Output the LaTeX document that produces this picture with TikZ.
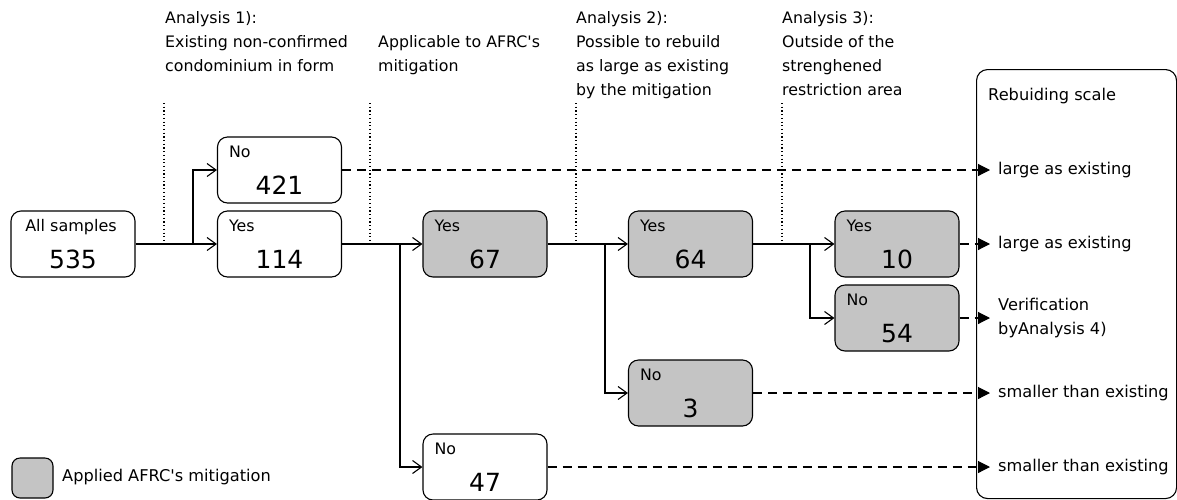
\documentclass[tikz,border=0pt]{standalone}
\usepackage{fontspec}
\setmainfont{DejaVu Sans}
\newfontfamily\dvs{DejaVu Sans}
\usetikzlibrary{arrows.meta,calc}
\definecolor{boxgray}{RGB}{196,196,196}
\tikzset{
  box/.style={draw, rounded corners=10pt, minimum width=124pt, minimum height=66pt, line width=1.1pt, inner sep=0pt},
  gbox/.style={box, fill=boxgray},
  lbl/.style={anchor=base west, inner sep=0pt, font=\dvs\fontsize{15.8}{18}\selectfont},
  num/.style={anchor=base, inner sep=0pt, font=\dvs\fontsize{25}{30}\selectfont},
  head/.style={anchor=north west, inner sep=0pt, align=left, font=\dvs\fontsize{15.8}{24}\selectfont},
  rtext/.style={anchor=west, inner sep=0pt, align=left, font=\dvs\fontsize{16.2}{24.5}\selectfont},
  arr/.style={line width=1.1pt, -{Straight Barb[length=9pt,width=13pt,line width=1.1pt]}},
  darr/.style={line width=1.1pt, dash pattern=on 9pt off 6pt, -{Triangle[length=12pt,width=12pt]}},
  dotline/.style={line width=1.2pt, dash pattern=on 1.2pt off 2.5pt},
}
\begin{document}
\dvs
\begin{tikzpicture}[x=1pt,y=-1pt]
\useasboundingbox (0,0) rectangle (1177,499);

% headers
\node[head] (h1) at (165,11) {Analysis 1):\\Existing non-confirmed\\condominium in form};
\node[head] (h2) at (378,35) {Applicable to AFRC's\\mitigation};
\node[head] (h3) at (576,11) {Analysis 2):\\Possible to rebuild\\as large as existing\\by the mitigation};
\node[head] (h4) at (782,11) {Analysis 3):\\Outside of the\\strenghened\\restriction area};

% rebuilding scale box
\node[draw, line width=1.1pt, rounded corners=11pt, minimum width=200pt, minimum height=429pt, anchor=north west, inner sep=0pt] (scale) at (976,69) {};
\node[rtext] (sct) at (988,96) {Rebuiding scale};

% boxes
\node[box]  (all)    at (73,244)    {};
\node[box]  (no421)  at (279.5,170) {};
\node[box]  (yes114) at (279.5,244) {};
\node[gbox] (yes67)  at (485,244)   {};
\node[gbox] (yes64)  at (690.5,244) {};
\node[gbox] (yes10)  at (897,244)   {};
\node[gbox] (no54)   at (897,318)   {};
\node[gbox] (no3)    at (690.5,393) {};
\node[box]  (no47)   at (485,467)   {};

% box texts
\node[anchor=base, inner sep=0pt, font=\dvs\fontsize{16}{19}\selectfont] (allt) at ($(all.north)+(-2,21)$) {All samples};
\node[num] (alln) at ($(all.north)+(0,58)$) {535};
\node[lbl] (l421) at ($(no421.north west)+(12,21)$) {No};
\node[num] (n421) at ($(no421.north)+(0,58)$) {421};
\node[lbl] (l114) at ($(yes114.north west)+(12,21)$) {Yes};
\node[num] (n114) at ($(yes114.north)+(0,58)$) {114};
\node[lbl] (l67) at ($(yes67.north west)+(12,21)$) {Yes};
\node[num] (n67) at ($(yes67.north)+(0,58)$) {67};
\node[lbl] (l64) at ($(yes64.north west)+(12,21)$) {Yes};
\node[num] (n64) at ($(yes64.north)+(0,58)$) {64};
\node[lbl] (l10) at ($(yes10.north west)+(12,21)$) {Yes};
\node[num] (n10) at ($(yes10.north)+(0,58)$) {10};
\node[lbl] (l54) at ($(no54.north west)+(12,21)$) {No};
\node[num] (n54) at ($(no54.north)+(0,58)$) {54};
\node[lbl] (l3) at ($(no3.north west)+(12,21)$) {No};
\node[num] (n3) at ($(no3.north)+(0,58)$) {3};
\node[lbl] (l47) at ($(no47.north west)+(12,21)$) {No};
\node[num] (n47) at ($(no47.north)+(0,58)$) {47};

% dotted separators
\coordinate (d1) at (164,103);
\coordinate (d2) at (370,103);
\coordinate (d3) at (576,103);
\coordinate (d4) at (782,103);
\foreach \d in {d1,d2,d3,d4} \draw[dotline] (\d) -- (\d |- all.east);

% branch points
\coordinate (b1) at (193,244);
\coordinate (b2) at (400,244);
\coordinate (b3) at (605,244);
\coordinate (b4) at (810,244);

% solid connectors
\draw[arr] (all.east) -- (yes114.west);
\draw[arr] (b1) |- (no421.west);
\draw[arr] (yes114.east) -- (yes67.west);
\draw[arr] (b2) |- (no47.west);
\draw[arr] (yes67.east) -- (yes64.west);
\draw[arr] (b3) |- (no3.west);
\draw[arr] (yes64.east) -- (yes10.west);
\draw[arr] (b4) |- (no54.west);

% result texts
\node[rtext] (r1) at (998,170) {large as existing};
\node[rtext] (r2) at (998,244) {large as existing};
\node[rtext] (r3) at (998,318) {Verification\\byAnalysis 4)};
\node[rtext] (r4) at (998,393) {smaller than existing};
\node[rtext] (r5) at (998,467) {smaller than existing};

% dashed arrows
\draw[darr, shorten >=8pt] (no421.east) -- (r1.west);
\draw[darr, shorten >=8pt] (yes10.east) -- (r2.west);
\draw[darr, shorten >=8pt] (no54.east) -- (r3.west);
\draw[darr, shorten >=8pt] (no3.east) -- (r4.west);
\draw[darr, shorten >=8pt] (no47.east) -- (r5.west);

% legend
\node[draw, fill=boxgray, line width=1.1pt, rounded corners=8pt, minimum width=41pt, minimum height=40pt, inner sep=0pt] (leg) at (32.5,478) {};
\node[rtext] (legt) at (62,477) {Applied AFRC's mitigation};
\end{tikzpicture}
\end{document}
